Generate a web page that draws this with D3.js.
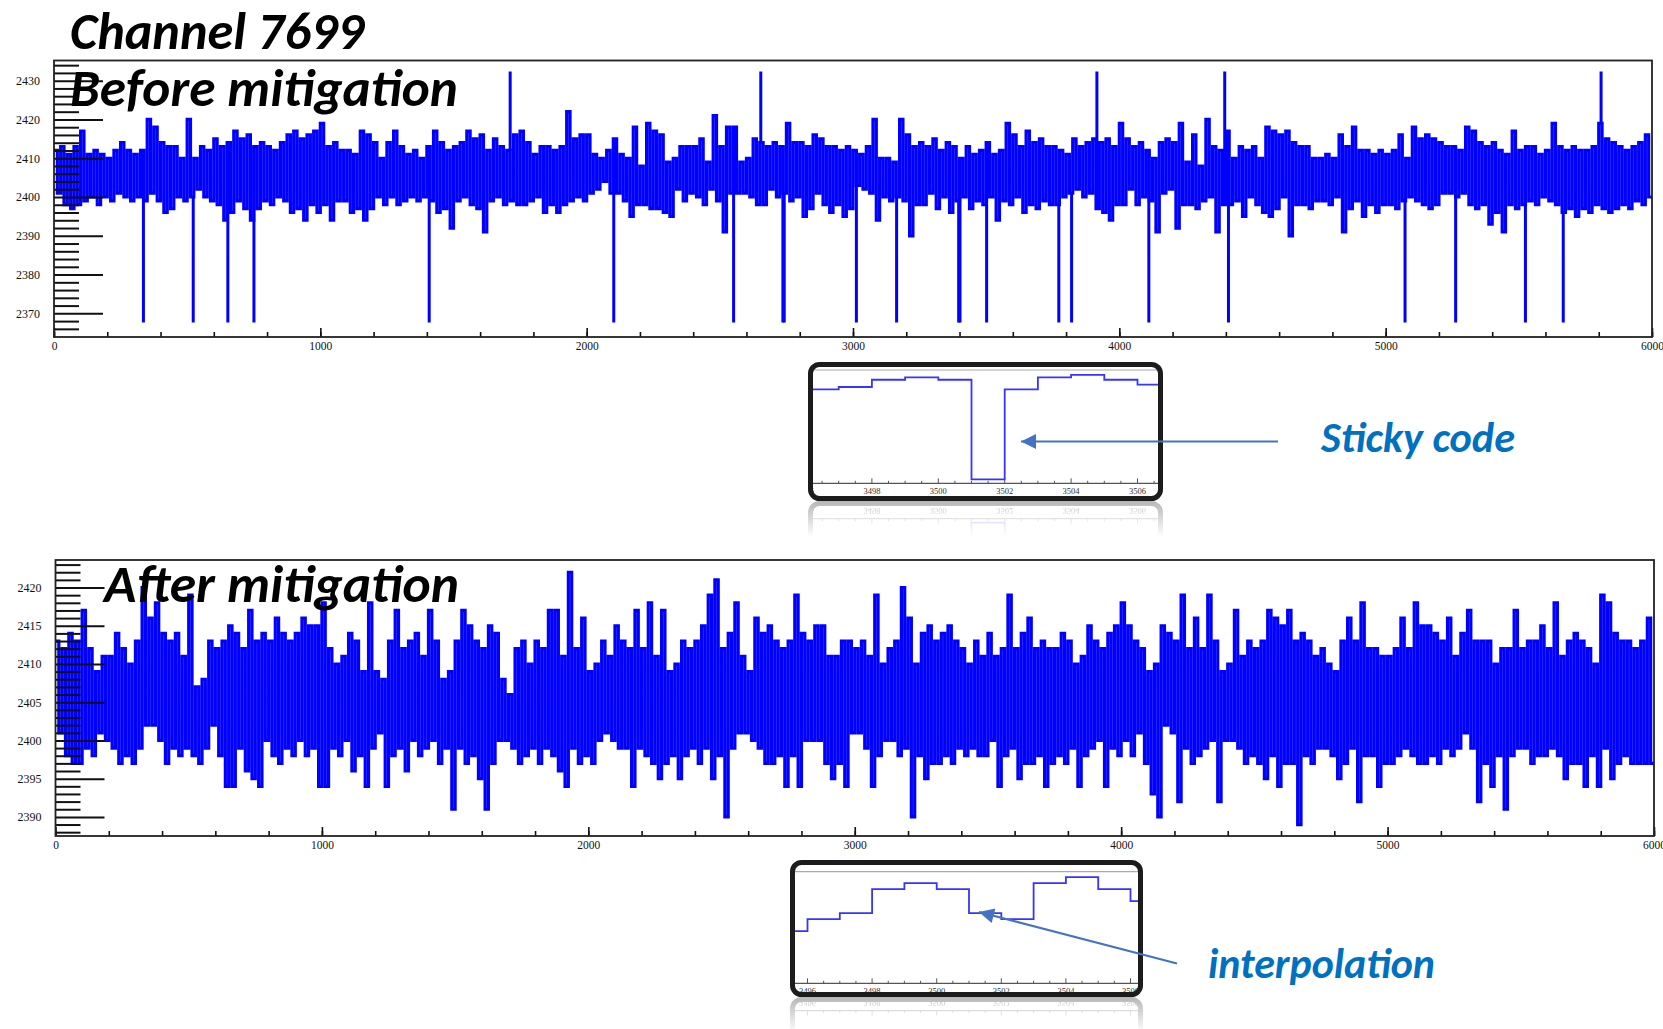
<!DOCTYPE html>
<html><head><meta charset="utf-8">
<script src="https://cdn.jsdelivr.net/npm/d3@7"></script>
<style>
html,body{margin:0;padding:0;background:#fff;}
svg{display:block;}
</style></head>
<body>
<svg id="chart" width="1663" height="1029"></svg>
<script>
// ---------------- DATA ----------------
const binSize = 25; // samples per envelope bin
const xTickValues = [0, 1000, 2000, 3000, 4000, 5000, 6000];
const xMinorTicks = d3.range(0, 6001, 200);
const beforeYTicks = [2370, 2380, 2390, 2400, 2410, 2420, 2430];
const beforeYMinor = d3.range(2366, 2435, 2);
const afterYTicks = [2390, 2395, 2400, 2405, 2410, 2415, 2420];
const afterYMinor = d3.range(2388, 2424, 1);

// Before mitigation: per-bin upper / lower envelope (ADC counts)
const beforeHigh = [
2412,2413,2411,2413,2417,2411,2412,2411,2410,2412,
2414,2412,2411,2412,2420,2418,2414,2413,2413,2410,
2420,2410,2413,2412,2415,2413,2414,2417,2415,2416,
2413,2414,2413,2412,2414,2416,2417,2415,2416,2417,
2419,2413,2414,2412,2412,2411,2417,2416,2414,2410,
2414,2417,2413,2411,2412,2410,2413,2417,2414,2412,
2413,2414,2417,2415,2416,2412,2415,2413,2412,2416,
2417,2414,2411,2413,2413,2412,2413,2422,2415,2416,
2416,2411,2410,2412,2415,2411,2410,2418,2408,2419,
2417,2416,2409,2410,2413,2413,2413,2415,2409,2421,
2413,2418,2418,2409,2410,2415,2414,2413,2414,2413,
2419,2414,2414,2413,2416,2415,2413,2413,2412,2413,
2412,2411,2413,2420,2410,2410,2409,2420,2416,2413,
2414,2413,2415,2412,2414,2413,2410,2413,2411,2412,
2414,2411,2412,2419,2416,2413,2417,2414,2415,2413,
2413,2412,2411,2415,2413,2414,2415,2414,2415,2413,
2419,2415,2413,2414,2412,2410,2414,2415,2414,2419,
2409,2416,2408,2420,2413,2412,2417,2410,2413,2412,
2413,2410,2418,2417,2416,2417,2414,2413,2413,2410,
2410,2411,2410,2416,2413,2418,2412,2412,2411,2412,
2411,2412,2416,2410,2418,2415,2416,2415,2414,2413,
2413,2412,2418,2417,2414,2413,2414,2412,2411,2417,
2412,2413,2413,2411,2412,2419,2413,2412,2413,2412,
2412,2413,2419,2415,2414,2413,2412,2413,2414,2416];
const beforeLow = [
2401,2398,2397,2398,2399,2400,2398,2400,2399,2401,
2400,2399,2400,2399,2401,2399,2396,2397,2400,2399,
2400,2402,2400,2399,2398,2394,2396,2399,2397,2394,
2397,2399,2398,2400,2399,2396,2397,2394,2398,2396,
2398,2394,2399,2399,2396,2397,2394,2397,2400,2398,
2400,2398,2399,2400,2399,2400,2399,2396,2397,2392,
2399,2400,2398,2397,2391,2399,2400,2398,2399,2398,
2398,2399,2400,2396,2398,2396,2398,2399,2400,2399,
2401,2402,2404,2401,2401,2399,2395,2398,2398,2397,
2397,2396,2395,2402,2399,2401,2400,2398,2402,2399,
2391,2401,2401,2401,2400,2398,2398,2402,2400,2401,
2399,2400,2395,2397,2401,2398,2396,2398,2395,2397,
2403,2402,2401,2394,2400,2399,2400,2399,2390,2398,
2398,2401,2397,2400,2396,2399,2400,2397,2399,2398,
2400,2394,2399,2398,2400,2396,2398,2397,2399,2398,
2398,2400,2401,2402,2400,2401,2397,2396,2394,2398,
2398,2402,2398,2400,2399,2391,2401,2402,2392,2398,
2398,2397,2399,2400,2391,2398,2398,2399,2395,2400,
2398,2396,2395,2397,2400,2390,2398,2398,2397,2399,
2399,2398,2400,2391,2397,2399,2395,2398,2396,2398,
2398,2397,2399,2400,2399,2398,2397,2398,2401,2401,
2400,2401,2398,2397,2398,2393,2396,2391,2398,2397,
2398,2399,2398,2400,2399,2398,2396,2397,2395,2397,
2396,2398,2397,2396,2397,2398,2397,2399,2398,2400];
// Sticky-code samples (before mitigation)
const beforeSpikeSamples = [335,522,652,750,1408,1712,2101,2551,2653,2736,2741,3012,3163,3396,3401,3501,3772,3820,3915,4110,4395,4409,5072,5262,5524,5666,5808];
const beforeSpikeValues  = [2368,2368,2368,2368,2368,2432,2368,2368,2432,2368,2368,2368,2368,2368,2368,2368,2368,2368,2432,2368,2432,2368,2368,2368,2368,2368,2432];

// After mitigation: per-bin upper / lower envelope
const afterHigh = [
2413,2412,2414,2413,2417,2412,2409,2411,2411,2414,
2412,2410,2413,2420,2416,2418,2414,2413,2414,2411,
2419,2407,2408,2413,2412,2413,2415,2414,2412,2417,
2413,2414,2413,2416,2414,2413,2414,2416,2415,2415,
2418,2412,2410,2411,2414,2413,2409,2418,2409,2408,
2413,2417,2412,2413,2414,2411,2417,2413,2408,2409,
2413,2417,2415,2413,2412,2415,2414,2408,2406,2412,
2413,2410,2413,2412,2417,2417,2411,2422,2412,2416,
2409,2410,2413,2411,2415,2413,2412,2417,2412,2418,
2411,2417,2409,2410,2413,2412,2413,2415,2419,2421,
2412,2414,2418,2411,2409,2416,2414,2415,2413,2412,
2413,2419,2414,2413,2415,2415,2411,2411,2413,2413,
2412,2413,2411,2419,2410,2412,2413,2420,2416,2410,
2414,2415,2413,2414,2415,2413,2412,2410,2413,2411,
2414,2411,2412,2419,2412,2414,2416,2412,2413,2412,
2412,2414,2413,2410,2411,2415,2413,2412,2414,2415,
2418,2415,2413,2412,2409,2410,2415,2414,2413,2419,
2412,2416,2412,2419,2413,2409,2410,2417,2411,2413,
2412,2413,2417,2416,2415,2417,2413,2414,2413,2411,
2412,2410,2409,2413,2416,2413,2418,2412,2412,2411,
2411,2412,2416,2412,2418,2415,2415,2414,2413,2416,
2411,2414,2417,2413,2413,2413,2410,2412,2412,2417,
2412,2413,2413,2415,2412,2418,2411,2413,2414,2413,
2412,2410,2419,2418,2414,2413,2413,2412,2413,2416];
const afterLow = [
2401,2398,2397,2397,2399,2398,2401,2400,2399,2397,
2398,2397,2399,2402,2402,2400,2397,2399,2398,2399,
2398,2397,2399,2402,2398,2394,2394,2399,2396,2395,
2394,2400,2398,2397,2399,2398,2400,2398,2399,2394,
2394,2399,2398,2400,2396,2398,2394,2399,2401,2394,
2398,2399,2396,2400,2398,2399,2400,2397,2399,2391,
2399,2397,2398,2395,2391,2397,2400,2400,2399,2397,
2398,2399,2397,2399,2398,2396,2394,2399,2397,2398,
2397,2400,2401,2400,2399,2399,2394,2399,2398,2397,
2395,2397,2398,2395,2398,2399,2397,2399,2395,2398,
2390,2399,2401,2401,2400,2399,2397,2397,2398,2394,
2398,2394,2400,2400,2400,2397,2395,2397,2394,2401,
2401,2399,2394,2398,2400,2400,2398,2399,2390,2398,
2395,2397,2397,2398,2397,2399,2398,2399,2398,2398,
2400,2394,2398,2399,2395,2397,2397,2398,2394,2397,
2398,2397,2399,2394,2398,2399,2400,2394,2399,2398,
2400,2398,2401,2397,2393,2390,2402,2401,2392,2399,
2397,2398,2399,2400,2392,2400,2400,2399,2397,2398,
2397,2395,2398,2394,2397,2397,2389,2398,2397,2399,
2399,2398,2395,2397,2399,2392,2398,2398,2394,2397,
2397,2398,2399,2398,2397,2397,2398,2397,2399,2398,
2399,2401,2399,2392,2397,2394,2398,2391,2398,2399,
2399,2397,2398,2398,2399,2398,2395,2397,2397,2394,
2398,2394,2399,2395,2397,2398,2397,2397,2397,2397];
const afterSpikeSamples = [];
const afterSpikeValues = [];

// Zoomed insets (sample number -> ADC value)
const insetBeforeBins   = [3496,3497,3498,3499,3500,3501,3502,3503,3504,3505,3506];
const insetBeforeValues = [2405,2406,2409,2410,2409,2368,2405,2410,2411,2409,2407];
const insetAfterBins    = [3495,3496,3497,3498,3499,3500,3501,3502,3503,3504,3505,3506];
const insetAfterValues  = [2402,2404,2405,2409,2410,2409,2405,2404,2410,2411,2409,2407];
const insetLabels = [3494,3496,3498,3500,3502,3504,3506];

// ---------------- DRAWING ----------------
const svg = d3.select('#chart');
const defs = svg.append('defs');
const BLUE = '#0000ff';

function envelopePoints(high, low) {
  const pts = [];
  high.forEach((h, i) => {
    pts.push([i * binSize, h]);
    pts.push([i * binSize + binSize / 2, low[i]]);
  });
  pts.push([high.length * binSize, low[low.length - 1]]);
  return pts;
}
function levelAt(pts, s) {
  let lvl = pts[0][1];
  for (const p of pts) { if (p[0] <= s) lvl = p[1]; else break; }
  return lvl;
}

function drawPanel(cfg) {
  const g = svg.append('g');
  const x = d3.scaleLinear().domain([0, 6000]).range([cfg.x0, cfg.x1]);
  const y = d3.scaleLinear().domain(cfg.yDomain).range([cfg.y1, cfg.y0]);
  const clipId = 'clip' + cfg.id;
  defs.append('clipPath').attr('id', clipId).append('rect')
    .attr('x', cfg.x0).attr('y', cfg.y0).attr('width', cfg.x1 - cfg.x0).attr('height', cfg.y1 - cfg.y0);
  const data = g.append('g').attr('clip-path', `url(#${clipId})`);

  const pts = envelopePoints(cfg.high, cfg.low);
  const line = d3.line().x(d => x(d[0])).y(d => y(d[1])).curve(d3.curveStepAfter);
  data.append('path').attr('d', line(pts))
    .attr('fill', 'none').attr('stroke', BLUE).attr('stroke-width', 3.2).attr('stroke-linejoin', 'miter');

  // single-sample spikes
  const spikeLine = d3.line().x(d => x(d[0])).y(d => y(d[1]));
  data.selectAll('.spike').data(cfg.spS.map((s, k) => ({ s, v: cfg.spV[k], lvl: levelAt(pts, s) })))
    .join('path')
    .attr('d', d => spikeLine([[d.s, d.lvl], [d.s, d.v], [d.s + 1.5, d.v], [d.s + 1.5, d.lvl]]))
    .attr('fill', 'none').attr('stroke', BLUE).attr('stroke-width', 2.6);

  // y ticks (minor + major) inward
  const yMinor = g.append('g').attr('transform', `translate(${cfg.x0},0)`)
    .call(d3.axisRight(y).tickValues(cfg.yMinor).tickSize(25).tickFormat(''));
  const yMajor = g.append('g').attr('transform', `translate(${cfg.x0},0)`)
    .call(d3.axisRight(y).tickValues(cfg.yTicks).tickSize(49).tickFormat(''));
  [yMinor, yMajor].forEach(a => { a.select('.domain').remove(); a.selectAll('line').attr('stroke', '#111').attr('stroke-width', 2); });
  const yLab = g.append('g').attr('transform', `translate(${cfg.x0},0)`)
    .call(d3.axisLeft(y).tickValues(cfg.yTicks).tickSize(0).tickPadding(14).tickFormat(d3.format('d')));
  yLab.select('.domain').remove();
  yLab.selectAll('text').attr('font-family', '"Liberation Serif", serif').attr('font-size', 12).attr('fill', '#111');

  // x ticks inward
  const xMinor = g.append('g').attr('transform', `translate(0,${cfg.y1})`)
    .call(d3.axisTop(x).tickValues(xMinorTicks).tickSize(5).tickFormat(''));
  const xMajor = g.append('g').attr('transform', `translate(0,${cfg.y1})`)
    .call(d3.axisTop(x).tickValues(xTickValues).tickSize(9).tickFormat(''));
  [xMinor, xMajor].forEach(a => { a.select('.domain').remove(); a.selectAll('line').attr('stroke', '#111').attr('stroke-width', 1.6); });
  const xLab = g.append('g').attr('transform', `translate(0,${cfg.y1})`)
    .call(d3.axisBottom(x).tickValues(xTickValues).tickSize(0).tickPadding(5).tickFormat(d3.format('d')));
  xLab.select('.domain').remove();
  xLab.selectAll('text').attr('font-family', '"Liberation Serif", serif').attr('font-size', 11.5).attr('fill', '#111');

  // frame
  g.append('rect').attr('x', cfg.x0).attr('y', cfg.y0).attr('width', cfg.x1 - cfg.x0).attr('height', cfg.y1 - cfg.y0)
    .attr('fill', 'none').attr('stroke', '#222').attr('stroke-width', 1.8);
}

drawPanel({ id: 'top', x0: 54, x1: 1652, y0: 60.5, y1: 337, yDomain: [2363.9, 2435.2],
  high: beforeHigh, low: beforeLow, spS: beforeSpikeSamples, spV: beforeSpikeValues,
  yTicks: beforeYTicks, yMinor: beforeYMinor.filter(v => !beforeYTicks.includes(v)) });
drawPanel({ id: 'bot', x0: 55.5, x1: 1654, y0: 560, y1: 836, yDomain: [2387.5, 2423.6],
  high: afterHigh, low: afterLow, spS: afterSpikeSamples, spV: afterSpikeValues,
  yTicks: afterYTicks, yMinor: afterYMinor.filter(v => !afterYTicks.includes(v)) });

// ---------- insets ----------
function drawInset(cfg) {
  const root = svg.append('g');
  const g = root.append('g').attr('id', cfg.id);
  const x = d3.scaleLinear().domain(cfg.xDomain).range(cfg.xRange);
  const y = d3.scaleLinear().domain(cfg.yDomain).range(cfg.yRange);
  const clipId = 'iclip' + cfg.id;
  defs.append('clipPath').attr('id', clipId).append('rect')
    .attr('x', cfg.inner[0]).attr('y', cfg.inner[1]).attr('width', cfg.inner[2] - cfg.inner[0]).attr('height', cfg.inner[3] - cfg.inner[1]);
  g.append('rect').attr('x', cfg.box[0]).attr('y', cfg.box[1]).attr('width', cfg.box[2] - cfg.box[0]).attr('height', cfg.box[3] - cfg.box[1])
    .attr('rx', 9).attr('fill', '#fff');
  const inner = g.append('g').attr('clip-path', `url(#${clipId})`);
  inner.append('line').attr('x1', cfg.inner[0]).attr('x2', cfg.inner[2]).attr('y1', cfg.yRange[1]).attr('y2', cfg.yRange[1])
    .attr('stroke', '#aaa').attr('stroke-width', 1.2);
  inner.append('line').attr('x1', cfg.inner[0]).attr('x2', cfg.inner[2]).attr('y1', cfg.yRange[0]).attr('y2', cfg.yRange[0])
    .attr('stroke', '#555').attr('stroke-width', 1.2);
  const ticks = d3.range(cfg.xDomain[0], cfg.xDomain[1] + 0.01, 0.5);
  inner.selectAll('.itk').data(ticks).join('line')
    .attr('x1', d => x(d)).attr('x2', d => x(d))
    .attr('y1', cfg.yRange[0]).attr('y2', d => cfg.yRange[0] - (d % 2 === 0 ? 5 : 2.5))
    .attr('stroke', '#555').attr('stroke-width', 1);
  inner.selectAll('.ilab').data(insetLabels).join('text')
    .attr('x', d => x(d)).attr('y', cfg.yRange[0] + 11)
    .attr('text-anchor', 'middle').attr('font-family', '"Liberation Serif", serif').attr('font-size', 8.5).attr('fill', '#333')
    .text(d => d);
  const pts = cfg.bins.map((b, i) => [b, cfg.values[i]]);
  pts.push([cfg.bins[cfg.bins.length - 1] + 1, cfg.values[cfg.values.length - 1]]);
  const line = d3.line().x(d => x(d[0])).y(d => y(d[1])).curve(d3.curveStepAfter);
  inner.append('path').attr('d', line(pts)).attr('fill', 'none').attr('stroke', '#3535ff').attr('stroke-width', 1.8);
  g.append('rect').attr('x', cfg.box[0] + 2.5).attr('y', cfg.box[1] + 2.5)
    .attr('width', cfg.box[2] - cfg.box[0] - 5).attr('height', cfg.box[3] - cfg.box[1] - 5)
    .attr('rx', 9).attr('fill', 'none').attr('stroke', '#1c1c1c').attr('stroke-width', 5);

  // reflection
  const gradId = 'rg' + cfg.id, maskId = 'rm' + cfg.id;
  const by = cfg.box[3];
  const grad = defs.append('linearGradient').attr('id', gradId).attr('gradientUnits', 'userSpaceOnUse')
    .attr('x1', 0).attr('x2', 0).attr('y1', by).attr('y2', by + 36);
  grad.append('stop').attr('offset', 0).attr('stop-color', '#fff').attr('stop-opacity', 0.32);
  grad.append('stop').attr('offset', 1).attr('stop-color', '#fff').attr('stop-opacity', 0);
  defs.append('mask').attr('id', maskId).attr('maskUnits', 'userSpaceOnUse')
    .attr('x', 0).attr('y', 0).attr('width', 1663).attr('height', 1029)
    .append('rect').attr('x', cfg.box[0]).attr('y', by).attr('width', cfg.box[2] - cfg.box[0]).attr('height', 36)
    .attr('fill', `url(#${gradId})`);
  root.append('g').attr('mask', `url(#${maskId})`).append('use')
    .attr('href', '#' + cfg.id).attr('transform', `translate(0,${2 * by}) scale(1,-1)`);
}

drawInset({ id: 'insetTop', box: [808, 362, 1163, 501], inner: [813, 367, 1158, 496],
  xDomain: [3496, 3507], xRange: [805.5, 1170.7], yDomain: [2366.4, 2413], yRange: [483.3, 370],
  bins: insetBeforeBins, values: insetBeforeValues });
drawInset({ id: 'insetBot', box: [790, 860, 1143, 997], inner: [795, 865, 1138, 992],
  xDomain: [3495, 3507], xRange: [775.2, 1162.8], yDomain: [2393.3, 2411.9], yRange: [983.3, 871.7],
  bins: insetAfterBins, values: insetAfterValues });

// ---------- arrows ----------
defs.append('marker').attr('id', 'ah').attr('viewBox', '0 0 10 10').attr('refX', 10).attr('refY', 5)
  .attr('markerWidth', 16).attr('markerHeight', 15).attr('markerUnits', 'userSpaceOnUse').attr('orient', 'auto')
  .append('path').attr('d', 'M0,0 L10,5 L0,10 z').attr('fill', '#4472C4');
svg.append('line').attr('x1', 1278).attr('y1', 441.5).attr('x2', 1021).attr('y2', 441.5)
  .attr('stroke', '#4472C4').attr('stroke-width', 2).attr('marker-end', 'url(#ah)');
svg.append('line').attr('x1', 1177).attr('y1', 963.5).attr('x2', 979).attr('y2', 912)
  .attr('stroke', '#4472C4').attr('stroke-width', 2).attr('marker-end', 'url(#ah)');

// ---------- texts ----------
const FONT = 'Carlito, Calibri, Lato, "Open Sans", sans-serif';
function fitText(t, w) {
  const fs = +t.attr('font-size');
  const cw = t.node().getComputedTextLength();
  t.attr('font-size', fs * w / cw);
}
function addText(str, x, y, w, color, fs) {
  const t = svg.append('text').attr('x', x).attr('y', y).attr('font-family', FONT)
    .attr('font-weight', 700).attr('font-style', 'italic').attr('font-size', fs).attr('fill', color).text(str);
  fitText(t, w);
  return t;
}
addText('Channel 7699', 70, 49, 294, '#000', 46);
addText('Before mitigation', 70, 106, 388, '#000', 46);
addText('After mitigation', 104, 602, 355, '#000', 46);
addText('Sticky code', 1321, 452, 194, '#0070C0', 34);
addText('interpolation', 1208, 978, 227, '#0070C0', 34);
</script>
</body></html>
